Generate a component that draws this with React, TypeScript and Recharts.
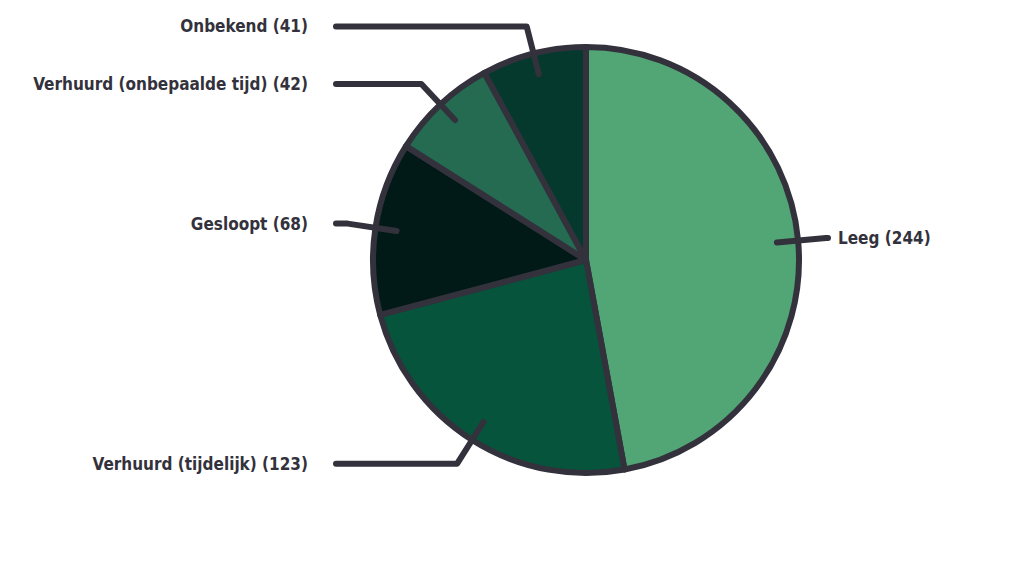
import { PieChart, Pie, Cell } from "recharts";

const categories = [
  "Leeg",
  "Verhuurd (tijdelijk)",
  "Gesloopt",
  "Verhuurd (onbepaalde tijd)",
  "Onbekend",
];
const counts = [244, 123, 68, 42, 41];
const colors = ["#52a675", "#06543c", "#021a17", "#246b52", "#06392d"];

const data = categories.map((name, i) => ({ name, value: counts[i] }));

const INK = "#33323c";
const RAD = Math.PI / 180;

const renderLabel = (props: any) => {
  const { cx, cy, midAngle, outerRadius, name, value } = props;
  const cos = Math.cos(-midAngle * RAD);
  const sin = Math.sin(-midAngle * RAD);
  const sx = cx + outerRadius * 0.9 * cos;
  const sy = cy + outerRadius * 0.9 * sin;
  const mx = cx + (outerRadius + 28) * cos;
  const my = cy + (outerRadius + 28) * sin;
  const right = cos >= 0;
  const ex = right ? cx + 242 : cx - 250;
  const tx = right ? ex + 10 : ex - 28;
  return (
    <g>
      <path
        d={`M${sx},${sy} L${mx},${my} L${ex},${my}`}
        stroke={INK}
        strokeWidth={6}
        strokeLinecap="round"
        strokeLinejoin="round"
        fill="none"
      />
      <text
        x={tx}
        y={my}
        fill={INK}
        textAnchor={right ? "start" : "end"}
        dominantBaseline="central"
        fontFamily="'DejaVu Sans Condensed', 'DejaVu Sans', sans-serif"
        fontWeight="bold"
        fontSize={17}
      >
        {`${name} (${value})`}
      </text>
    </g>
  );
};

export default function App() {
  return (
    <div style={{ position: "absolute", left: 0, top: 0, width: 1024, height: 570, background: "#fff" }}>
      <PieChart width={1024} height={570} margin={{ top: 0, right: 0, bottom: 0, left: 0 }}>
        <Pie
          data={data}
          dataKey="value"
          nameKey="name"
          cx={586}
          cy={260}
          outerRadius={213}
          startAngle={90}
          endAngle={-270}
          stroke={INK}
          strokeWidth={6}
          strokeLinejoin="round"
          label={renderLabel}
          labelLine={false}
          isAnimationActive={false}
        >
          {data.map((d, i) => (
            <Cell key={d.name} fill={colors[i]} />
          ))}
        </Pie>
      </PieChart>
    </div>
  );
}
